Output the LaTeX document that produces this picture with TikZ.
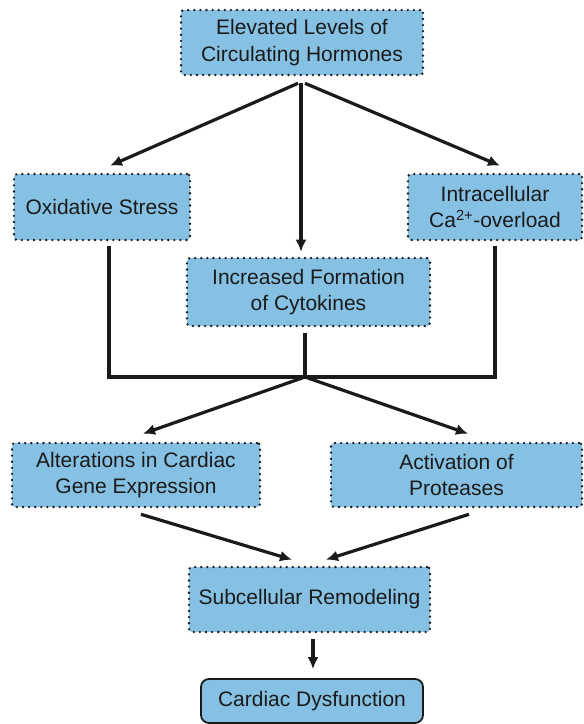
\documentclass[tikz,border=0pt]{standalone}
\usepackage{fontspec}
\setmainfont{Liberation Sans}
\usetikzlibrary{arrows.meta,calc}
\definecolor{boxblue}{RGB}{134,193,228}
\definecolor{ink}{RGB}{26,26,26}
\tikzset{
  dotbox/.style={fill=boxblue, draw=ink, line width=2.6pt, dash pattern=on 0pt off 6.1pt, line cap=round,
    rounded corners=3pt, align=center, inner sep=0pt, text=ink,
    font=\fontsize{21}{26.5}\selectfont},
  solidbox/.style={fill=boxblue, draw=ink, line width=1.8pt, rounded corners=8pt, align=center,
    inner sep=0pt, text=ink, font=\fontsize{21}{26.5}\selectfont},
  conn/.style={draw=ink, line width=3.2pt},
  arr/.style={conn, -{Latex[length=12pt,width=11pt]}},
}
\begin{document}
\begin{tikzpicture}[x=1pt,y=-1pt]
\useasboundingbox (0,0) rectangle (584,724);
\node[dotbox, minimum width=242pt, minimum height=65pt] (top) at (302,42.5) {Elevated Levels of\\Circulating Hormones};
\node[dotbox, minimum width=176pt, minimum height=66pt] (ox) at (102,207) {Oxidative Stress};
\node[dotbox, minimum width=174pt, minimum height=66pt] (ca) at (495,207) {Intracellular\\Ca\textsuperscript{2+}-overload};
\node[dotbox, minimum width=243pt, minimum height=68pt] (cy) at (308.5,292) {Increased Formation\\of Cytokines};
\node[dotbox, minimum width=248pt, minimum height=64pt] (alt) at (136,475) {Alterations in Cardiac\\Gene Expression};
\node[dotbox, minimum width=251pt, minimum height=64pt] (act) at (456.5,475) {Activation of\\Proteases};
\node[dotbox, minimum width=241pt, minimum height=65pt] (sub) at (309.5,599.5) {Subcellular Remodeling};
\node[solidbox, minimum width=222pt, minimum height=44pt] (cd) at (312,701) {Cardiac Dysfunction};
\coordinate (j) at (305,377);
% top fan-out
\draw[arr] ([shift={(-4,7)}]top.south) -- ([shift={(8,-7)}]ox.north);
\draw[arr] ([shift={(-1,7)}]top.south) -- ([shift={(-7.5,-5)}]cy.north);
\draw[arr] ([shift={(3,7)}]top.south) -- ([shift={(5,-7)}]ca.north);
% collector
\draw[conn] ([shift={(7,5)}]ox.south) |- (j) -| ([shift={(0,5)}]ca.south);
\draw[conn] ([shift={(-3.5,6)}]cy.south) -- (j);
% fan-out
\draw[arr] (j) -- ([shift={(7,-8)}]alt.north);
\draw[arr] (j) -- ([shift={(11.5,-8)}]act.north);
% converge
\draw[arr] ([shift={(5,6)}]alt.south) -- ([shift={(-17.5,-6)}]sub.north);
\draw[arr] ([shift={(12.5,6)}]act.south) -- ([shift={(16.5,-6)}]sub.north);
\draw[arr] ([shift={(3.5,6)}]sub.south) -- ([shift={(1,-9)}]cd.north);
\end{tikzpicture}
\end{document}
